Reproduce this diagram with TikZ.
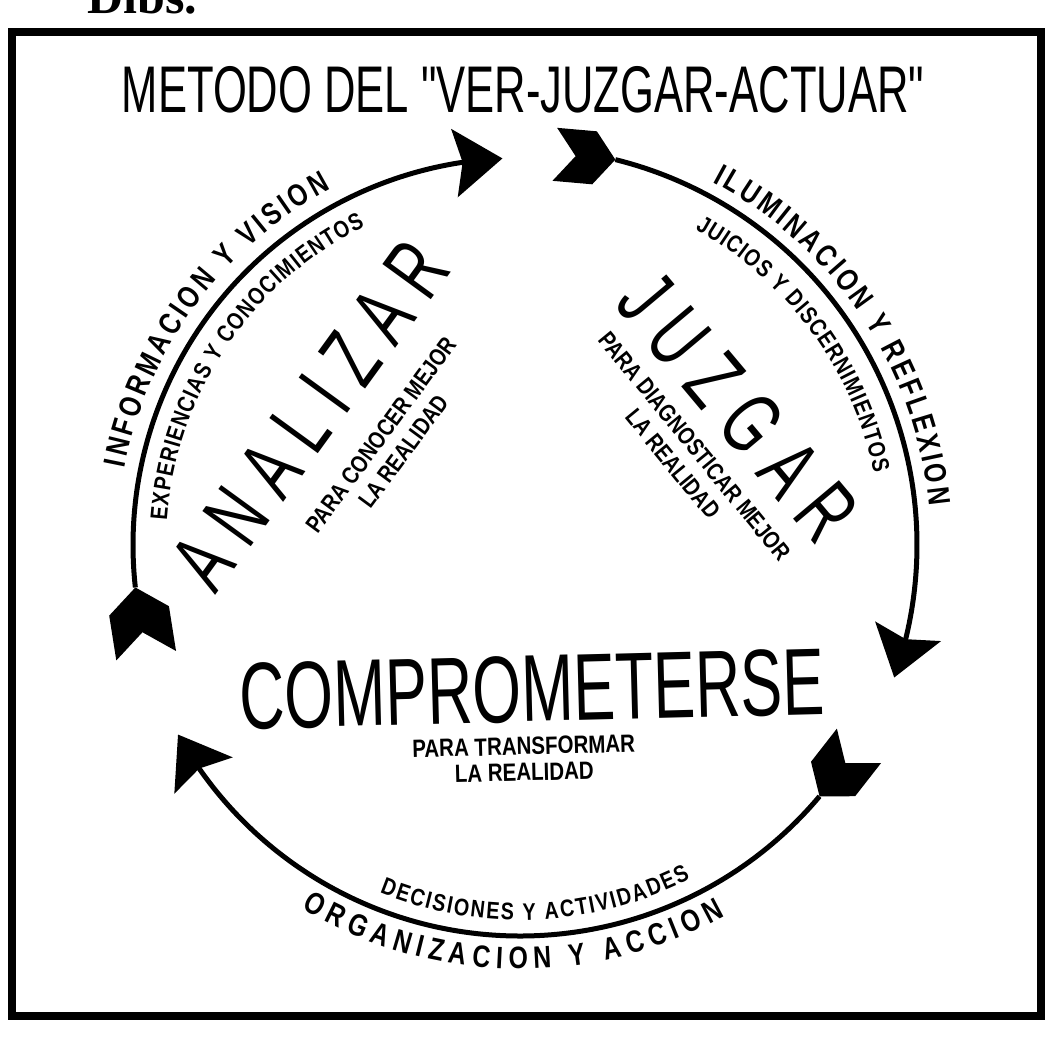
\documentclass[tikz,border=0pt]{standalone}
\usepackage{fontspec}
\setmainfont{Liberation Sans}
\newfontfamily\condfont{Liberation Sans}[FakeStretch=0.66]
\newfontfamily\widefont{Liberation Sans}[FakeStretch=0.66,LetterSpace=20]
\newfontfamily\arcfont{Liberation Sans}[FakeStretch=0.8]
\newfontfamily\notefont{Liberation Sans}[FakeStretch=0.82]
\newfontfamily\serifcut{Liberation Serif}
\usetikzlibrary{arrows.meta}
\usetikzlibrary{bending}
\usetikzlibrary{decorations.text}
\usetikzlibrary{positioning}

\tikzset{
	arrowhead/.tip={Stealth[length=48pt,width=68pt,inset=8pt]},
	fletch/.pic={\fill (0,0) -- (-22,28) -- (-64,28) -- (-42,0) -- (-64,-28) -- (-22,-28) -- cycle;}
}

\begin{document}
\begin{tikzpicture}[
		x=1pt, y=1pt,
		cycle/.style={line width=5pt, -arrowhead},
		bigword/.style={font=\widefont\fontsize{87}{87}\selectfont, inner sep=0pt},
		note/.style={font=\notefont\bfseries\fontsize{24}{28}\selectfont, align=center, inner sep=0pt},
		arctext/.style={decorate, decoration={text along path, text align=fit to path, text={#1}}}
	]
	\useasboundingbox (0,0) rectangle (1046,1039);
	\coordinate (C) at (520,494);

	% frame and heading
	\draw[line width=8pt] (12,23) rectangle (1041,1007);
	\node[anchor=base west, font=\serifcut\bfseries\fontsize{50}{50}\selectfont, inner sep=0pt] (dibs) at (87,1025) {Dibs.};
	\node[font=\condfont\fontsize{66}{66}\selectfont, inner sep=0pt] (title) at (523,949) {METODO DEL "VER-JUZGAR-ACTUAR"};

	% the three steps
	\node[bigword, rotate=54] (analizar) at (310,624) {ANALIZAR};
	\node[note, rotate=53.6] (analizar-note) at (392,596) {PARA CONOCER MEJOR\\LA REALIDAD};
	\node[bigword, rotate=-50] (juzgar) at (738,632) {JUZGAR};
	\node[note, rotate=-50.6] (juzgar-note) at (684,584) {PARA DIAGNOSTICAR MEJOR\\LA REALIDAD};
	\node[font=\condfont\fontsize{95}{95}\selectfont, inner sep=0pt, rotate=1.5] (comprometerse) at (532,350) {COMPROMETERSE};
	\node[note, font=\notefont\bfseries\fontsize{25}{26}\selectfont, rotate=1.5] (comprometerse-note) at (524,280) {PARA TRANSFORMAR\\LA REALIDAD};

	% cycle arrows, each with a feathered tail
	\coordinate (ver-start) at ([shift={(C)}]186.3:387);
	\coordinate (juzgar-start) at ([shift={(C)}]76.1:397);
	\coordinate (actuar-start) at ([shift={(C)}]-40:391);
	\draw[cycle] (ver-start) arc[start angle=186.3, end angle=92.6, radius=387];
	\draw[cycle] (juzgar-start) arc[start angle=76.1, end angle=-19.5, radius=397];
	\draw[cycle] (actuar-start) arc[start angle=-40, end angle=-151, radius=391];
	\pic[rotate=99, scale=1.08] at (ver-start) {fletch};
	\pic[rotate=-5, scale=0.95] at (juzgar-start) {fletch};
	\pic[rotate=-128] at (actuar-start) {fletch};

	% texts along the arcs
	\path[arctext={|\arcfont\bfseries\fontsize{31}{31}\selectfont|INFORMACION Y VISION}] ([shift={(C)}]169:403) arc[start angle=169, end angle=118, radius=403];
	\path[arctext={|\notefont\bfseries\fontsize{24}{24}\selectfont|EXPERIENCIAS Y CONOCIMIENTOS}] ([shift={(C)}]176:354) arc[start angle=176, end angle=116, radius=354];
	\path[arctext={|\arcfont\bfseries\fontsize{31}{31}\selectfont|ILUMINACION Y REFLEXION}] ([shift={(C)}]62:411) arc[start angle=62, end angle=5.5, radius=411];
	\path[arctext={|\notefont\bfseries\fontsize{24}{24}\selectfont|JUICIOS Y DISCERNIMIENTOS}] ([shift={(C)}]61:361) arc[start angle=61, end angle=11.5, radius=361];
	\path[arctext={|\notefont\bfseries\fontsize{24}{24}\selectfont|DECISIONES Y ACTIVIDADES}] ([shift={(C)}]248:375) arc[start angle=248, end angle=297, radius=375];
	\path[arctext={|\arcfont\bfseries\fontsize{31}{31}\selectfont|ORGANIZACION Y ACCION}] ([shift={(C)}]239:424) arc[start angle=239, end angle=299, radius=424];
\end{tikzpicture}
\end{document}
